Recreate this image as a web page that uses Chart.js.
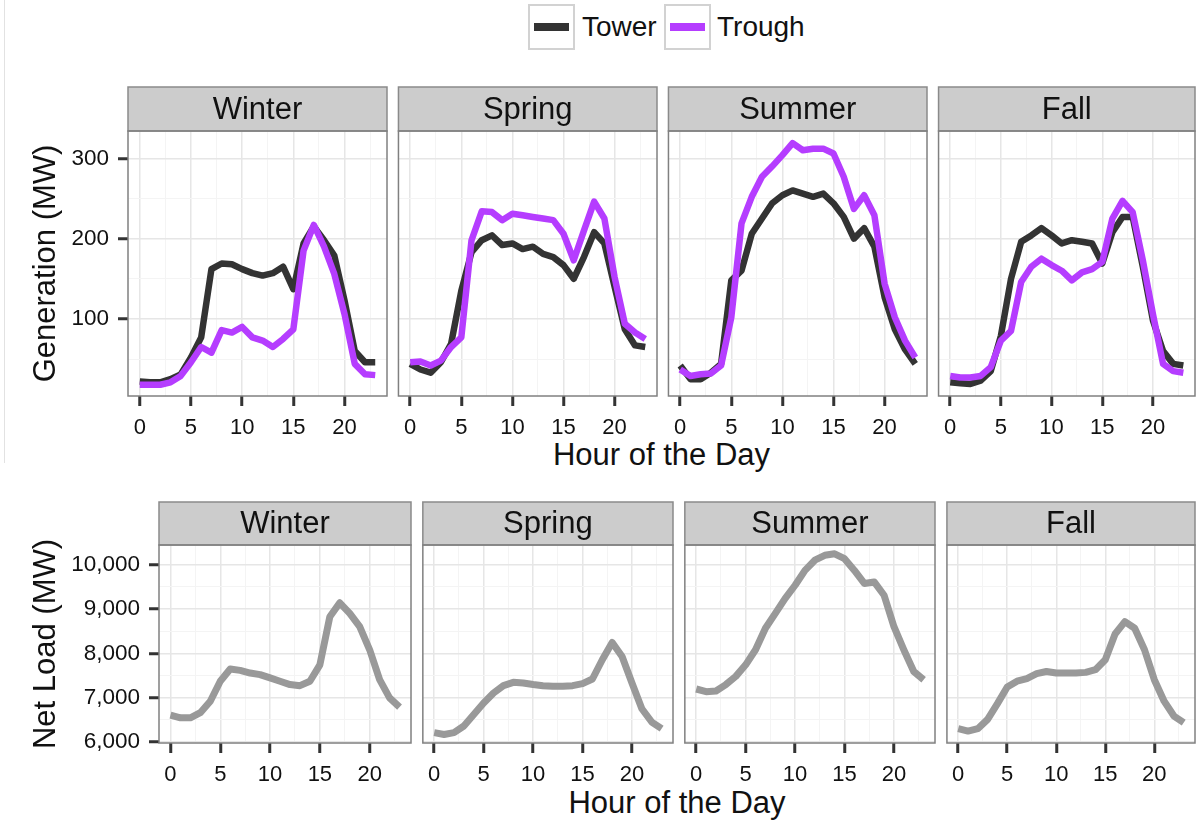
<!DOCTYPE html>
<html>
<head>
<meta charset="utf-8">
<script src="https://cdn.jsdelivr.net/npm/chart.js@4.4.1/dist/chart.umd.min.js"></script>
<style>
  body { margin: 0; background: #fff; font-family: "Liberation Sans", Arial, sans-serif; }
  #page { position: relative; width: 1196px; height: 825px; overflow: hidden; background: #fff; }
  canvas { position: absolute; }
  .edge { position: absolute; left: 4px; top: 0; width: 1px; height: 463px; background: #e2e2e2; }
  .key { position: absolute; top: 4px; width: 43px; height: 42px; border: 2px solid #d2d2d2; background: #fff; }
  .key span { position: absolute; left: 4px; right: 4px; top: 17px; height: 8px; }
  .ltxt { position: absolute; top: 4px; height: 46px; line-height: 46px; font-size: 28px; color: #111; }
  .xtitle { position: absolute; height: 38px; line-height: 38px; font-size: 31px; color: #111; text-align: center; }
</style>
</head>
<body>
<div id="page">
  <div class="edge"></div>
  <div class="key" style="left:528px"><span style="background:#333333"></span></div>
  <div class="ltxt" style="left:582px">Tower</div>
  <div class="key" style="left:664px"><span style="background:#b53dff"></span></div>
  <div class="ltxt" style="left:717px">Trough</div>
  <div class="xtitle" style="left:128px;width:1067px;top:436px">Hour of the Day</div>
  <div class="xtitle" style="left:159px;width:1036px;top:784px">Hour of the Day</div>
</div>
<script>
// ---- data ----
const hours = [0, 1, 2, 3, 4, 5, 6, 7, 8, 9, 10, 11, 12, 13, 14, 15, 16, 17, 18, 19, 20, 21, 22, 23];
const seasons = ['Winter', 'Spring', 'Summer', 'Fall'];

// Generation (MW), tower CSP
const towerWinter = [22, 21, 21, 25, 31, 52, 77, 162, 169, 168, 162, 157, 154, 157, 165, 137, 194, 215, 198, 179, 123, 60, 46, 46];
const towerSpring = [44, 37, 33, 46, 69, 135, 183, 198, 204, 192, 194, 187, 190, 181, 177, 167, 150, 177, 208, 194, 140, 87, 67, 65];
const towerSummer = [42, 25, 25, 33, 44, 148, 160, 206, 225, 244, 254, 260, 256, 252, 256, 244, 227, 200, 213, 190, 127, 87, 62, 44];
const towerFall   = [21, 20, 19, 23, 35, 79, 150, 196, 204, 213, 204, 194, 198, 196, 194, 169, 208, 227, 227, 165, 98, 60, 44, 42];

// Generation (MW), trough CSP
const troughWinter = [18, 18, 18, 21, 29, 46, 65, 58, 86, 83, 90, 77, 73, 65, 75, 87, 185, 217, 190, 156, 106, 44, 31, 30];
const troughSpring = [46, 47, 42, 48, 65, 77, 198, 234, 233, 223, 231, 229, 227, 225, 223, 206, 173, 210, 246, 225, 152, 94, 83, 75];
const troughSummer = [37, 29, 31, 32, 42, 102, 219, 252, 277, 290, 304, 319, 310, 312, 312, 306, 277, 237, 254, 229, 144, 102, 73, 52];
const troughFall   = [29, 27, 27, 29, 40, 73, 85, 146, 165, 175, 167, 160, 148, 158, 162, 171, 225, 247, 233, 173, 106, 44, 35, 33];

// Net load (MW)
const loadWinter = [6605, 6545, 6545, 6660, 6920, 7370, 7645, 7615, 7555, 7520, 7445, 7370, 7295, 7270, 7370, 7740, 8825, 9140, 8900, 8600, 8080, 7405, 6995, 6785];
const loadSpring = [6210, 6170, 6210, 6360, 6620, 6880, 7105, 7270, 7345, 7330, 7295, 7270, 7255, 7255, 7270, 7315, 7420, 7855, 8245, 7930, 7330, 6750, 6450, 6300];
const loadSummer = [7195, 7135, 7150, 7295, 7480, 7740, 8080, 8565, 8900, 9240, 9535, 9870, 10100, 10210, 10245, 10135, 9870, 9575, 9610, 9310, 8600, 8080, 7590, 7405];
const loadFall   = [6300, 6245, 6300, 6510, 6865, 7240, 7370, 7430, 7540, 7590, 7555, 7555, 7555, 7570, 7630, 7855, 8435, 8715, 8565, 8080, 7405, 6920, 6585, 6435];

// tick labels and grid positions
const xTicks = [0, 5, 10, 15, 20];
const xMinor = [2.5, 7.5, 12.5, 17.5, 22.5];
const genTicks = [100, 200, 300];
const genMinor = [50, 150, 250];
const loadTicks = [6000, 7000, 8000, 9000, 10000];
const loadMinor = [6500, 7500, 8500, 9500];

const towerBySeason = [towerWinter, towerSpring, towerSummer, towerFall];
const troughBySeason = [troughWinter, troughSpring, troughSummer, troughFall];
const loadBySeason = [loadWinter, loadSpring, loadSummer, loadFall];

// ---- styling ----
const TOWER_COLOR = '#333333';
const TROUGH_COLOR = '#b53dff';
const LOAD_COLOR = '#999999';
const MAJOR_GRID = '#e6e6e6';
const MINOR_GRID = '#f4f4f4';
const TEXT = '#111111';

Chart.defaults.font.family = '"Liberation Sans", Arial, sans-serif';
Chart.defaults.color = TEXT;

const withCommas = v => String(v).replace(/\B(?=(\d{3})+(?!\d))/g, ',');

// strip on top of each facet plus the panel border
const facetPlugin = {
  id: 'facet',
  afterDraw(chart, args, opts) {
    const { ctx, chartArea: a } = chart;
    const w = a.right - a.left;
    ctx.save();
    ctx.fillStyle = '#cccccc';
    ctx.fillRect(a.left, a.top - opts.stripH, w, opts.stripH);
    ctx.lineWidth = 1.5;
    ctx.strokeStyle = '#8a8a8a';
    ctx.strokeRect(a.left, a.top - opts.stripH, w, opts.stripH);
    ctx.strokeStyle = '#808080';
    ctx.strokeRect(a.left, a.top, w, a.bottom - a.top);
    ctx.fillStyle = '#111';
    ctx.font = '31px "Liberation Sans", Arial, sans-serif';
    ctx.textAlign = 'center';
    ctx.textBaseline = 'middle';
    ctx.fillText(opts.text, a.left + w / 2, a.top - opts.stripH / 2 + 1);
    ctx.restore();
  }
};

function setTicks(major, minor) {
  return scale => {
    scale.ticks = major.concat(minor).sort((a, b) => a - b).map(v => ({ value: v }));
  };
}

function makePanel(p) {
  const canvas = document.createElement('canvas');
  canvas.width = p.width;
  canvas.height = p.height;
  canvas.style.left = p.left + 'px';
  canvas.style.top = p.top + 'px';
  document.getElementById('page').appendChild(canvas);

  const isMajorX = v => xTicks.includes(v);
  const isMajorY = v => p.yMajor.includes(v);

  return new Chart(canvas.getContext('2d'), {
    type: 'line',
    data: { labels: hours, datasets: p.datasets },
    options: {
      responsive: false,
      animation: false,
      events: [],
      layout: { padding: { top: p.padTop, left: p.padLeft, right: 2, bottom: 0 } },
      elements: {
        point: { radius: 0 },
        line: { tension: 0, borderCapStyle: 'butt', borderJoinStyle: 'round' }
      },
      plugins: {
        legend: { display: false },
        tooltip: { enabled: false },
        facet: { text: p.title, stripH: p.stripH }
      },
      scales: {
        x: {
          type: 'linear',
          min: -1.15, max: 24.15,
          afterBuildTicks: setTicks(xTicks, xMinor),
          afterFit: s => { s.height = 48; },
          border: { display: false },
          grid: {
            color: c => isMajorX(c.tick.value) ? MAJOR_GRID : MINOR_GRID,
            lineWidth: c => isMajorX(c.tick.value) ? 1.5 : 1,
            tickColor: c => isMajorX(c.tick.value) ? '#333' : 'rgba(0,0,0,0)',
            tickWidth: 3,
            tickLength: 10
          },
          ticks: {
            autoSkip: false, maxRotation: 0,
            padding: 9,
            font: { size: 22 },
            color: TEXT,
            callback: v => isMajorX(v) ? String(v) : ''
          }
        },
        y: {
          min: p.yMin, max: p.yMax,
          afterBuildTicks: setTicks(p.yMajor, p.yMinor),
          afterFit: s => { s.width = p.yAxisW; },
          border: { display: false },
          title: {
            display: p.showY,
            text: p.yTitle,
            font: { size: 31 },
            color: TEXT,
            padding: { top: 28, bottom: 0 }
          },
          grid: {
            drawTicks: p.showY,
            color: c => isMajorY(c.tick.value) ? MAJOR_GRID : MINOR_GRID,
            lineWidth: c => isMajorY(c.tick.value) ? 1.5 : 1,
            tickColor: c => isMajorY(c.tick.value) ? '#333' : 'rgba(0,0,0,0)',
            tickWidth: 3,
            tickLength: 10
          },
          ticks: {
            display: p.showY,
            autoSkip: false,
            padding: 9,
            font: { size: 22.5 },
            color: TEXT,
            callback: v => isMajorY(v) ? withCommas(v) : ''
          }
        }
      }
    },
    plugins: [facetPlugin]
  });
}

// ---- top row: generation ----
const topLefts = [128, 397, 667, 937];
const topRights = [387, 657, 927, 1195];
seasons.forEach((s, i) => {
  const first = i === 0;
  const left = first ? 0 : topLefts[i] - 2;
  const right = topRights[i] + 2;
  makePanel({
    title: s,
    left: left, top: 85,
    width: right - left, height: 46 + (396 - 131) + 48,
    padTop: 46, padLeft: first ? 0 : 2,
    stripH: 44,
    yAxisW: first ? 128 : 0,
    showY: first,
    yTitle: 'Generation (MW)',
    yMin: 4, yMax: 334, yMajor: genTicks, yMinor: genMinor,
    datasets: [
      { label: 'Tower', data: towerBySeason[i], borderColor: TOWER_COLOR, borderWidth: 6.5, order: 1 },
      { label: 'Trough', data: troughBySeason[i], borderColor: TROUGH_COLOR, borderWidth: 6.5, order: 0 }
    ]
  });
});

// ---- bottom row: net load ----
const botLefts = [159, 421, 683, 945];
const botRights = [411, 673, 935, 1195];
seasons.forEach((s, i) => {
  const first = i === 0;
  const left = first ? 0 : botLefts[i] - 2;
  const right = botRights[i] + 2;
  makePanel({
    title: s,
    left: left, top: 500,
    width: right - left, height: 45 + (743 - 545) + 48,
    padTop: 45, padLeft: first ? 0 : 2,
    stripH: 43,
    yAxisW: first ? 159 : 0,
    showY: first,
    yTitle: 'Net Load (MW)',
    yMin: 5977, yMax: 10443, yMajor: loadTicks, yMinor: loadMinor,
    datasets: [
      { label: 'Net Load', data: loadBySeason[i], borderColor: LOAD_COLOR, borderWidth: 7 }
    ]
  });
});
</script>
</body>
</html>
